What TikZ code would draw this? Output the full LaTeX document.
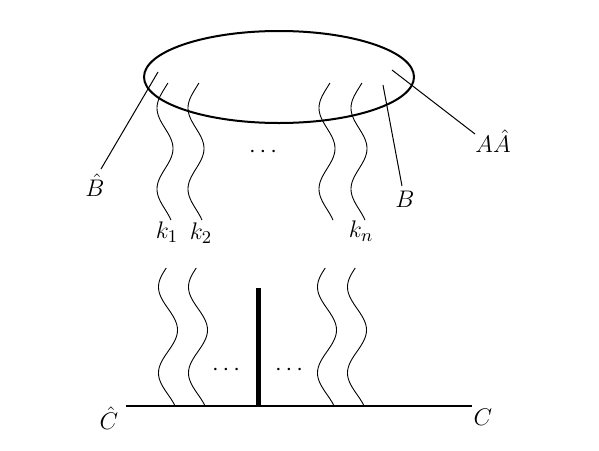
\documentclass[tikz,border=0pt]{standalone}
\begin{document}
\begin{tikzpicture}[x=0.5pt,y=-0.5pt,
  lbl/.style={inner sep=0pt,font=\fontsize{13}{16}\selectfont},
  wave/.style={line width=0.45pt},
  thin/.style={line width=0.5pt},
  ring/.style={line width=1pt}]
\useasboundingbox (0,0) rectangle (599,450);
% ellipse
\coordinate (ec) at (279,77);
\draw[ring] (ec) ellipse [x radius=135, y radius=46];
% top waves
\foreach \x in {165,196,327,359}{
  \draw[wave] plot[domain=83:220,samples=80,variable=\t] ({\x-8*cos((\t-108)*4.4444)},\t);
}
% labels
\node[lbl] (k1) at (167,232) {$k_1$};
\node[lbl] (k2) at (201,233) {$k_2$};
\node[lbl] (kn) at (361,231) {$k_n$};
\node[lbl] (dt) at (263,152) {$\cdots$};
\node[lbl] (Bh) at (95,185) {$\hat B$};
\node[lbl] (B) at (405,199) {$B$};
\node[lbl] (AA) at (493,141) {$A\hat A$};
\coordinate (p1) at (158,72);
\coordinate (q1) at (101,169);
\coordinate (p2) at (383,85);
\coordinate (q2) at (402,186);
\coordinate (p3) at (392,70);
\coordinate (q3) at (475,134);
\draw[thin] (p1) -- (q1);
\draw[thin] (p2) -- (q2);
\draw[thin] (p3) -- (q3);
% bottom
\coordinate (L) at (126,406);
\coordinate (R) at (472,406);
\draw[line width=1pt] (L) -- (R);
\node[lbl] (Ch) at (109,418) {$\hat C$};
\node[lbl] (C) at (483,417) {$C$};
\coordinate (bt) at (258,288);
\coordinate (bb) at (258,406);
\draw[line width=2.5pt] (bt) -- (bb);
\node[lbl] (d1) at (226,370) {$\cdots$};
\node[lbl] (d2) at (289,370) {$\cdots$};
\foreach \x in {168,198,327,357}{
  \draw[wave] plot[domain=268:405,samples=80,variable=\t] ({\x-9.5*cos((\t-287)*4.186)},\t);
}
\end{tikzpicture}
\end{document}
